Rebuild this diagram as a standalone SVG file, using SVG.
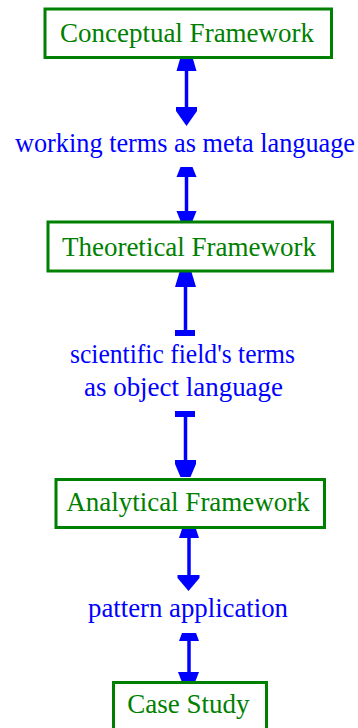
<svg xmlns="http://www.w3.org/2000/svg" width="358" height="728" viewBox="0 0 358 728">
<style>
.box{fill:#ffffff;stroke:#008000;stroke-width:3}
.bt{font-family:"Liberation Serif","Times New Roman",serif;font-size:27px;fill:#008000;text-anchor:middle}
.lt{font-family:"Liberation Serif","Times New Roman",serif;font-size:26.5px;fill:#0000ff;text-anchor:middle}
.shaft{stroke:#0000ff;stroke-width:3.5;fill:none}
.head{fill:#0000ff;stroke:none}
</style>
<rect width="358" height="728" fill="#ffffff"/>
<g id="connectors">
  <!-- arrow 1 -->
  <line class="shaft" x1="186.5" y1="59" x2="186.5" y2="112"/>
  <polygon class="head" points="180,59 193,59 196.5,71 176.5,71"/>
  <polygon class="head" points="176,107 197,107 197,111 186.5,126 176,111"/>
  <!-- arrow 2 -->
  <line class="shaft" x1="186.5" y1="170" x2="186.5" y2="221"/>
  <polygon class="head" points="180.5,167 192.5,167 196.5,177 176.5,177"/>
  <polygon class="head" points="176.5,211 196.5,211 192.5,221 180.5,221"/>
  <!-- arrow 3 -->
  <line class="shaft" x1="185.5" y1="273" x2="185.5" y2="333"/>
  <polygon class="head" points="179.5,272 191.5,272 196,287 175,287"/>
  <rect class="head" x="175" y="330" width="20" height="6"/>
  <!-- arrow 4 -->
  <rect class="head" x="175" y="411" width="20" height="6"/>
  <line class="shaft" x1="185.5" y1="414" x2="185.5" y2="470"/>
  <polygon class="head" points="175,460 196,460 196,464 190.5,477 180.5,477 175,464"/>
  <!-- arrow 5 -->
  <line class="shaft" x1="189" y1="529" x2="189" y2="580"/>
  <polygon class="head" points="182,529 196,529 199,538 179,538"/>
  <polygon class="head" points="177.5,575 199.5,575 199.5,578 188.5,591 177.5,578"/>
  <!-- arrow 6 -->
  <line class="shaft" x1="189" y1="636" x2="189" y2="681"/>
  <polygon class="head" points="182,633 196,633 199,641 179,641"/>
  <polygon class="head" points="178,672 199,672 195.5,681 181.5,681"/>
</g>
<g id="conceptual">
  <rect class="box" x="45" y="9" width="286.5" height="48.5"/>
  <text class="bt" x="187" y="41.5">Conceptual Framework</text>
</g>
<g id="label-meta">
  <text class="lt" x="185" y="152" textLength="340" lengthAdjust="spacingAndGlyphs">working terms as meta language</text>
</g>
<g id="theoretical">
  <rect class="box" x="48" y="222" width="284.5" height="49"/>
  <text class="bt" x="189" y="255.5">Theoretical Framework</text>
</g>
<g id="label-object">
  <text class="lt" x="182.5" y="362.5" textLength="225" lengthAdjust="spacingAndGlyphs">scientific field's terms</text>
  <text class="lt" x="183.5" y="395.5" textLength="199" lengthAdjust="spacingAndGlyphs">as object language</text>
</g>
<g id="analytical">
  <rect class="box" x="56" y="479.5" width="268.5" height="48"/>
  <text class="bt" x="188" y="510.5">Analytical Framework</text>
</g>
<g id="label-pattern">
  <text class="lt" x="188" y="617" textLength="200" lengthAdjust="spacingAndGlyphs">pattern application</text>
</g>
<g id="casestudy">
  <rect class="box" x="113.5" y="682.5" width="153" height="50"/>
  <text class="bt" x="188.5" y="713">Case Study</text>
</g>
</svg>
